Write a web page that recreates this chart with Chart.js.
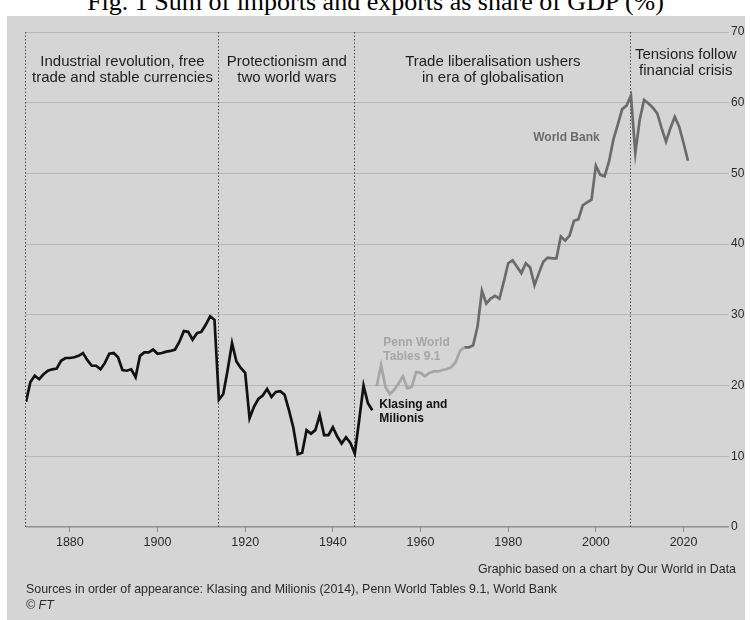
<!DOCTYPE html>
<html>
<head>
<meta charset="utf-8">
<title>Sum of imports and exports as share of GDP</title>
<script src="https://cdn.jsdelivr.net/npm/chart.js@4.4.1/dist/chart.umd.min.js"></script>
<style>
  html, body { margin: 0; padding: 0; background: #fff; }
  body { position: relative; width: 751px; height: 620px; overflow: hidden; }
  #title {
    position: absolute; left: 0; top: -11px; width: 751px; text-align: center;
    font: 26px/26px "Liberation Serif", "Times New Roman", serif; color: #000;
    white-space: nowrap;
  }
  #panel { position: absolute; left: 7px; top: 16px; width: 738px; height: 604px; background: #d5d5d5; }
  #chart { position: absolute; left: 0; top: 0; }
  .note {
    position: absolute; font: 12.4px/16px "Liberation Sans", Arial, sans-serif;
    color: #2a2a2a; white-space: nowrap;
  }
  #credit { right: 15px; top: 561px; }
  #sources { left: 26px; top: 581px; }
  #ft { left: 26px; top: 597px; font-style: italic; }
</style>
</head>
<body>
<div id="title">Fig. 1 Sum of imports and exports as share of GDP (%)</div>
<div id="panel"></div>
<canvas id="chart" width="751" height="620"></canvas>
<div class="note" id="credit">Graphic based on a chart by Our World in Data</div>
<div class="note" id="sources">Sources in order of appearance: Klasing and Milionis (2014), Penn World Tables 9.1, World Bank</div>
<div class="note" id="ft">© FT</div>

<script>
// trade openness, % of GDP, one value per year
const klasingStart = 1870;
const klasing = [
  17.7, 20.5, 21.4, 20.9, 21.6, 22.1, 22.3, 22.4, 23.5, 23.9,
  23.9, 24.0, 24.2, 24.6, 23.6, 22.8, 22.8, 22.3, 23.2, 24.5,
  24.6, 24.0, 22.2, 22.1, 22.3, 21.2, 24.2, 24.7, 24.7, 25.1,
  24.5, 24.6, 24.8, 24.9, 25.1, 26.2, 27.7, 27.6, 26.5, 27.4,
  27.6, 28.6, 29.8, 29.3, 18.0, 18.8, 22.2, 26.0, 23.4, 22.5,
  21.8, 15.4, 17.0, 18.1, 18.6, 19.5, 18.4, 19.1, 19.2, 18.7,
  16.5, 14.0, 10.3, 10.5, 13.7, 13.2, 13.7, 15.8, 13.0, 13.0,
  14.1, 12.8, 11.8, 12.7, 11.9, 10.4, 15.1, 20.0, 17.5, 16.5
];

const pennStart = 1950;
const penn = [
  19.9, 22.9, 19.8, 18.8, 19.4, 20.3, 21.3, 19.6, 19.8, 21.9,
  21.8, 21.3, 21.8, 22.0, 22.0, 22.2, 22.3, 22.6, 23.3, 24.9,
  25.4
];

const worldBankStart = 1970;
const worldBank = [
  25.4, 25.4, 25.7, 28.3, 33.4, 31.6, 32.3, 32.7, 32.3, 34.7,
  37.3, 37.7, 36.8, 35.9, 37.3, 36.7, 34.2, 35.9, 37.5, 38.1,
  38.0, 38.0, 41.1, 40.5, 41.2, 43.3, 43.5, 45.5, 45.9, 46.3,
  51.1, 49.8, 49.6, 51.7, 54.8, 56.9, 59.1, 59.6, 61.0, 52.9,
  57.6, 60.4, 59.9, 59.3, 58.5, 56.4, 54.5, 56.4, 58.0, 56.6,
  54.3, 51.8
];

const xTicks = [1880, 1900, 1920, 1940, 1960, 1980, 2000, 2020];
const yTicks = [0, 10, 20, 30, 40, 50, 60, 70];

// dotted dividers between eras, and the captions sitting in each
const eraBreaks = [1870, 1914, 1945, 2008];
const eraEnd = 2033;
const eraLabels = [
  ["Industrial revolution, free", "trade and stable currencies"],
  ["Protectionism and", "two world wars"],
  ["Trade liberalisation ushers", "in era of globalisation"],
  ["Tensions follow", "financial crisis"]
];

const seriesLabels = [
  { lines: ["World Bank"], year: 1985.7, value: 55.0, color: "#6b6b6b" },
  { lines: ["Penn World", "Tables 9.1"], year: 1951.5, value: 26.0, color: "#a6a6a6" },
  { lines: ["Klasing and", "Milionis"], year: 1950.6, value: 17.3, color: "#111111" }
];

const SANS = '"Liberation Sans", Arial, sans-serif';

function toPoints(start, values) {
  return values.map((v, i) => ({ x: start + i, y: v }));
}

const eraPlugin = {
  id: "eras",
  beforeDatasetsDraw(chart) {
    const { ctx, scales: { x, y } } = chart;
    const top = y.getPixelForValue(70);
    const bottom = y.getPixelForValue(0);
    ctx.save();
    ctx.strokeStyle = "#4a4a4a";
    ctx.lineWidth = 1;
    ctx.setLineDash([1.5, 2]);
    eraBreaks.forEach((yr) => {
      const px = Math.round(x.getPixelForValue(yr)) - 0.5;
      ctx.beginPath();
      ctx.moveTo(px, top);
      ctx.lineTo(px, bottom);
      ctx.stroke();
    });
    ctx.setLineDash([]);

    ctx.fillStyle = "#1e1e1e";
    ctx.font = "15px " + SANS;
    ctx.textAlign = "center";
    ctx.textBaseline = "middle";
    eraLabels.forEach((lines, i) => {
      const a = eraBreaks[i];
      const b = i + 1 < eraBreaks.length ? eraBreaks[i + 1] : eraEnd;
      const cx = (x.getPixelForValue(a) + x.getPixelForValue(b)) / 2;
      const cy = i === eraLabels.length - 1 ? 55 : 62;
      lines.forEach((t, j) => ctx.fillText(t, cx, cy + j * 16));
    });
    ctx.restore();
  },
  afterDatasetsDraw(chart) {
    const { ctx, scales: { x, y } } = chart;
    ctx.save();
    ctx.font = "bold 12px " + SANS;
    ctx.textAlign = "left";
    ctx.textBaseline = "middle";
    seriesLabels.forEach((s) => {
      ctx.fillStyle = s.color;
      const px = x.getPixelForValue(s.year);
      const py = y.getPixelForValue(s.value);
      s.lines.forEach((t, j) => ctx.fillText(t, px, py + j * 14));
    });
    ctx.restore();
  }
};

const lineStyle = { borderWidth: 2.7, pointRadius: 0, tension: 0, fill: false };

new Chart(document.getElementById("chart"), {
  type: "line",
  data: {
    datasets: [
      { label: "Klasing and Milionis", data: toPoints(klasingStart, klasing), borderColor: "#111111", ...lineStyle },
      { label: "Penn World Tables 9.1", data: toPoints(pennStart, penn), borderColor: "#a6a6a6", ...lineStyle },
      { label: "World Bank", data: toPoints(worldBankStart, worldBank), borderColor: "#6b6b6b", ...lineStyle }
    ]
  },
  options: {
    responsive: false,
    animation: false,
    events: [],
    layout: { padding: { left: 26, top: 32, right: 0, bottom: 0 } },
    plugins: { legend: { display: false }, tooltip: { enabled: false } },
    scales: {
      x: {
        type: "linear",
        min: 1870,
        max: 2029,
        afterBuildTicks: (s) => { s.ticks = xTicks.map((v) => ({ value: v })); },
        afterFit: (s) => { s.height = 93; },
        border: { display: false },
        grid: { drawOnChartArea: false, drawTicks: true, tickLength: 5, color: "#8c8c8c" },
        ticks: {
          color: "#2a2a2a",
          padding: 3,
          maxRotation: 0,
          font: { family: SANS, size: 12.5 },
          callback: (v) => String(v)
        }
      },
      y: {
        position: "right",
        min: 0,
        max: 70,
        afterBuildTicks: (s) => { s.ticks = yTicks.map((v) => ({ value: v })); },
        afterFit: (s) => { s.width = 28; },
        border: { display: false },
        grid: {
          color: (c) => (c.tick && c.tick.value === 0 ? "#8f8f8f" : "#b6b6b6"),
          lineWidth: (c) => (c.tick && c.tick.value === 0 ? 1.5 : 1),
          drawTicks: true,
          tickLength: 6
        },
        ticks: {
          color: "#2a2a2a",
          padding: 2,
          font: { family: SANS, size: 12 }
        }
      }
    }
  },
  plugins: [eraPlugin]
});
</script>
</body>
</html>
